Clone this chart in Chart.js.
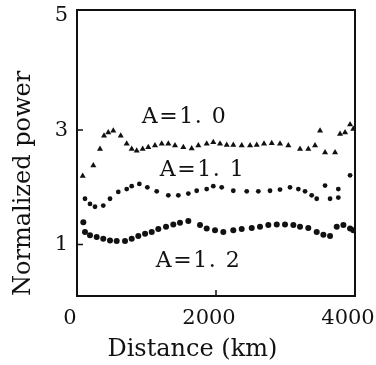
<!DOCTYPE html>
<html><head><meta charset="utf-8">
<script src="https://cdn.jsdelivr.net/npm/chart.js@4.4.0/dist/chart.umd.min.js"></script>
<style>html,body{margin:0;padding:0;background:#fff}#wrap{width:376px;height:365px}</style>
</head><body><div id="wrap"><canvas id="c" width="376" height="365"></canvas></div>
<script>
// Distance (km) and normalized power for each parameter A
const xA10 = [82,235,331,389,450,522,629,715,787,859,945,1026,1122,1219,1314,1410,1530,1650,1746,1866,1961,2058,2154,2249,2370,2490,2586,2691,2802,2921,3041,3209,3328,3425,3497,3569,3713,3785,3857,3929,3976];
const yA10 = [2.20,2.38,2.67,2.90,2.96,2.99,2.90,2.76,2.67,2.64,2.67,2.70,2.73,2.76,2.76,2.73,2.70,2.68,2.73,2.76,2.79,2.76,2.74,2.74,2.73,2.73,2.74,2.76,2.77,2.76,2.73,2.67,2.67,2.73,2.99,2.61,2.61,2.93,2.96,3.10,3.02];
const xA11 = [115,187,259,378,475,594,715,787,897,1012,1147,1314,1458,1602,1722,1866,1961,2082,2249,2442,2609,2777,2921,3065,3185,3281,3377,3449,3569,3641,3760,3760,3929];
const yA11 = [1.80,1.71,1.66,1.68,1.80,1.92,1.97,2.02,2.06,2.00,1.93,1.86,1.86,1.89,1.94,1.97,2.02,2.00,1.94,1.93,1.93,1.94,1.96,2.00,1.97,1.93,1.86,1.80,2.03,1.80,1.97,1.82,2.21];
const xA12 = [91,115,187,283,378,475,571,691,787,882,979,1075,1170,1281,1386,1482,1602,1770,1866,1986,2105,2249,2370,2514,2633,2753,2874,2993,3113,3209,3328,3449,3545,3641,3737,3833,3929,3976];
const yA12 = [1.39,1.22,1.16,1.13,1.10,1.07,1.06,1.06,1.10,1.15,1.19,1.22,1.27,1.31,1.35,1.38,1.41,1.34,1.28,1.25,1.22,1.25,1.27,1.29,1.31,1.34,1.35,1.35,1.34,1.31,1.29,1.22,1.17,1.15,1.31,1.34,1.28,1.25];
const xTicks = [0, 2000, 4000];
const yTicks = [1, 3, 5];
const labelTexts = ["A=1. 0", "A=1. 1", "A=1. 2"];
const labelX = [1547, 1806, 1748];
const labelY = [3.23, 2.29, 0.70];
const xTitle = 'Distance (km)';
const yTitle = 'Normalized power';
const xTitleAt = 1660; // km, centre of the x title as printed

const pts = (xs, ys) => xs.map((x, i) => ({x, y: ys[i]}));
const SERIF = "'DejaVu Serif', 'Liberation Serif', serif";

const framePlugin = {
  id: 'frame',
  afterDatasetsDraw(chart) {
    const {ctx, chartArea: a, scales} = chart;
    ctx.save();
    ctx.strokeStyle = '#111';
    ctx.lineWidth = 2;
    ctx.strokeRect(a.left, a.top, a.right - a.left, a.bottom - a.top);
    ctx.lineWidth = 1.5;
    ctx.beginPath();
    yTicks.forEach(v => {
      if (v >= 5) return;
      const py = scales.y.getPixelForValue(v);
      ctx.moveTo(a.left, py); ctx.lineTo(a.left + 6, py);
    });
    xTicks.forEach(v => {
      if (v <= 0 || v >= 4000) return;
      const px = scales.x.getPixelForValue(v);
      ctx.moveTo(px, a.bottom); ctx.lineTo(px, a.bottom - 6);
    });
    ctx.stroke();
    ctx.fillStyle = '#111';
    ctx.textAlign = 'center';
    ctx.textBaseline = 'middle';
    ctx.font = "24px " + SERIF;
    ctx.fillText(xTitle, scales.x.getPixelForValue(xTitleAt), 350);
    ctx.font = "22px " + SERIF;
    try { ctx.letterSpacing = '1.5px'; } catch (e) {}
    labelTexts.forEach((t, i) => {
      ctx.fillText(t, scales.x.getPixelForValue(labelX[i]), scales.y.getPixelForValue(labelY[i]));
    });
    ctx.restore();
  }
};

new Chart(document.getElementById('c'), {
  type: 'scatter',
  data: {
    datasets: [
      {label: 'A=1.0', data: pts(xA10, yA10), pointStyle: 'triangle', pointRadius: 3.5, backgroundColor: '#111', borderColor: '#111', borderWidth: 0},
      {label: 'A=1.1', data: pts(xA11, yA11), pointStyle: 'circle', pointRadius: 2.4, backgroundColor: '#111', borderColor: '#111', borderWidth: 0},
      {label: 'A=1.2', data: pts(xA12, yA12), pointStyle: 'circle', pointRadius: 3, backgroundColor: '#111', borderColor: '#111', borderWidth: 0}
    ]
  },
  options: {
    responsive: false,
    animation: false,
    events: [],
    layout: {padding: {top: 10, right: 21, left: 0, bottom: 0}},
    plugins: {legend: {display: false}, tooltip: {enabled: false}},
    scales: {
      x: {
        type: 'linear', min: 0, max: 4000,
        afterBuildTicks: s => { s.ticks = xTicks.map(v => ({value: v})); },
        afterFit: s => { s.height = 69; s.paddingLeft = 0; s.paddingRight = 0; },
        grid: {display: false, drawTicks: false},
        border: {display: false},
        ticks: {color: '#111', font: {family: SERIF, size: 21}, padding: 10, labelOffset: -7, maxRotation: 0, autoSkip: false, callback: v => String(v)},
        title: {display: false, text: xTitle}
      },
      y: {
        type: 'linear', min: 0.1, max: 5.1,
        afterBuildTicks: s => { s.ticks = yTicks.map(v => ({value: v})); },
        afterFit: s => { s.width = 77; s.paddingTop = 0; s.paddingBottom = 0; },
        grid: {display: false, drawTicks: false},
        border: {display: false},
        ticks: {color: '#111', font: {family: SERIF, size: 21}, padding: 9, autoSkip: false, callback: v => String(v)},
        title: {display: true, text: yTitle, align: 'start', color: '#111', font: {family: SERIF, size: 24}, padding: {top: 9, bottom: 0}}
      }
    }
  },
  plugins: [framePlugin]
});
</script>
</body></html>
